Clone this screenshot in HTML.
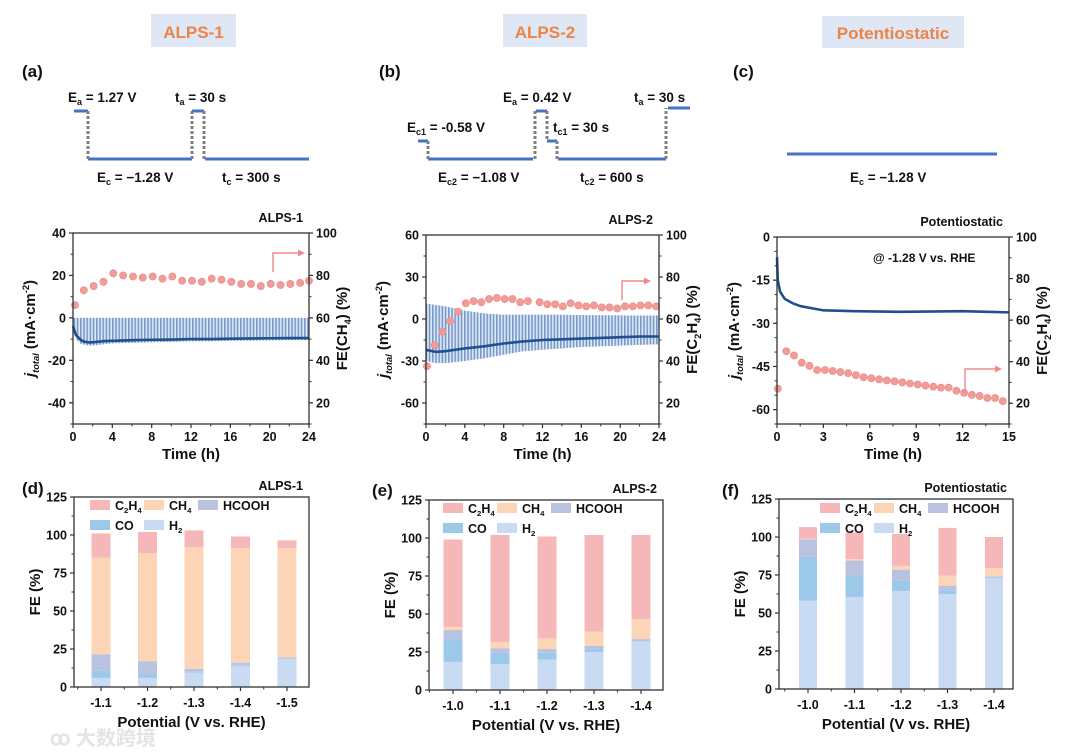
<!DOCTYPE html>
<html><head><meta charset="utf-8"><style>
html,body{margin:0;padding:0;background:#fff;}
svg{display:block;font-family:"Liberation Sans",Arial,sans-serif;font-weight:bold;}
</style></head><body>
<svg id="fig" width="1080" height="753" viewBox="0 0 1080 753" xmlns="http://www.w3.org/2000/svg">
<defs>
<pattern id="hatch" width="3.2" height="10" patternUnits="userSpaceOnUse"><rect width="1.6" height="10" fill="#3f6fb3"/></pattern>
</defs>
<!-- headers -->
<g><rect x="151" y="14" width="85" height="33" fill="#dfe7f4"/><text x="193.5" y="38" font-size="17" fill="#ec8447" text-anchor="middle">ALPS-1</text></g>
<g><rect x="503" y="14" width="84" height="33" fill="#dfe7f4"/><text x="545" y="38" font-size="17" fill="#ec8447" text-anchor="middle">ALPS-2</text></g>
<g><rect x="822" y="16" width="142" height="32" fill="#dfe7f4"/><text x="893" y="39" font-size="17" fill="#ec8447" text-anchor="middle">Potentiostatic</text></g>
<g font-size="17" fill="#111">
<text x="22" y="77">(a)</text>
<text x="379" y="77">(b)</text>
<text x="733" y="77">(c)</text>
<text x="22" y="494">(d)</text>
<text x="372" y="496">(e)</text>
<text x="722" y="496">(f)</text>
</g>
<!-- schematic a -->
<g fill="none">
<g stroke="#4472c4" stroke-width="3"><path d="M74 111H88M88 159H192M192 111H204M205 159H309"/></g>
<g stroke="#7f7f7f" stroke-width="3" stroke-dasharray="3 2"><path d="M88 111V159M192 159V111M204 111V159"/></g>
</g>
<g font-size="13.5" fill="#111">
<text x="68" y="102">E<tspan font-size="9" dy="3">a</tspan><tspan dy="-3"> = 1.27 V</tspan></text>
<text x="175" y="102">t<tspan font-size="9" dy="3">a</tspan><tspan dy="-3"> = 30 s</tspan></text>
<text x="97" y="182">E<tspan font-size="9" dy="3">c</tspan><tspan dy="-3"> = −1.28 V</tspan></text>
<text x="222" y="182">t<tspan font-size="9" dy="3">c</tspan><tspan dy="-3"> = 300 s</tspan></text>
</g>
<!-- schematic b -->
<g fill="none">
<g stroke="#4472c4" stroke-width="3"><path d="M418 141H428M428 159H533M536 111H547M547 141H557M558 159H666M668 108H690"/></g>
<g stroke="#7f7f7f" stroke-width="3" stroke-dasharray="3 2"><path d="M428 141V159M535 159V111M547 111V141M557 141V159M666 159V108"/></g>
</g>
<g font-size="13.5" fill="#111">
<text x="407" y="132">E<tspan font-size="9" dy="3">c1</tspan><tspan dy="-3"> = -0.58 V</tspan></text>
<text x="503" y="102">E<tspan font-size="9" dy="3">a</tspan><tspan dy="-3"> = 0.42 V</tspan></text>
<text x="553" y="132">t<tspan font-size="9" dy="3">c1</tspan><tspan dy="-3"> = 30 s</tspan></text>
<text x="634" y="102">t<tspan font-size="9" dy="3">a</tspan><tspan dy="-3"> = 30 s</tspan></text>
<text x="438" y="182">E<tspan font-size="9" dy="3">c2</tspan><tspan dy="-3"> = −1.08 V</tspan></text>
<text x="580" y="182">t<tspan font-size="9" dy="3">c2</tspan><tspan dy="-3"> = 600 s</tspan></text>
</g>
<!-- schematic c -->
<path d="M787 154H997" stroke="#4472c4" stroke-width="3"/>
<text x="850" y="182" font-size="13.5" fill="#111">E<tspan font-size="9" dy="3">c</tspan><tspan dy="-3"> = −1.28 V</tspan></text>
<text x="50" y="745" font-size="20" fill="#e4e4e4" font-family="'Liberation Sans','Noto Sans CJK SC',sans-serif">ꝏ 大数跨境</text>
<g id="charts"></g>
</svg>
<script>
// ---------- data: time series ----------
const aJT = [0,0.3,0.7,1,1.5,2,3,4,6,8,10,12,14,16,18,20,22,24];
const aJV = [-4,-8,-10,-11,-11.5,-11.5,-11,-10.8,-10.5,-10.3,-10.2,-10,-10,-9.8,-9.7,-9.6,-9.5,-9.5];
const aBandHi = [0,0,0,0,0,0,0,0,0,0,0,0,0,0,0,0,0,0];
const aBandLo = [-6,-10,-12,-12.5,-13,-13,-12.5,-12,-11.8,-11.5,-11.3,-11,-11,-10.8,-10.7,-10.6,-10.5,-10.5];
const aFT = [0.2,1.1,2.1,3.1,4.1,5.1,6.1,7.1,8.1,9.1,10.1,11.1,12.1,13.1,14.1,15.1,16.1,17.1,18.1,19.1,20.1,21.1,22.1,23.1,24];
const aFV = [66,73,75,77,81,80,79.5,79,79.5,78.5,79.5,77.5,77.5,77,78.5,78,77,76,76,75,76,75.5,76,76.5,77.5];

const bJT = [0,1,2,4,6,8,10,12,14,16,18,20,22,24];
const bJV = [-22,-23.5,-23,-21,-19.5,-17.5,-16,-15,-14.5,-14,-13.5,-13,-12.5,-12.5];
const bBandHi = [11,10,9,6,4,3,3,3,3,2.8,2.7,2.6,2.5,2.5];
const bBandLo = [-30,-31.5,-31.5,-30,-28,-25.5,-23,-22,-21,-20,-19.5,-19,-18.5,-18];
const bFT = [0.1,0.9,1.7,2.5,3.3,4.1,4.9,5.7,6.5,7.3,8.1,8.9,9.7,10.5,11.7,12.5,13.3,14.1,14.9,15.7,16.5,17.3,18.1,18.9,19.7,20.5,21.3,22.1,22.9,23.7];
const bFV = [37.5,47.5,54,59,63.5,67.5,68.5,68,69.5,70,69.5,69.5,68,68.5,68,67,67,66,67.5,66.5,66,66.5,65.5,65.5,65,66,66,66.5,66.5,66];

const cJT = [0,0.05,0.2,0.5,1,1.5,2,3,5,8,12,13.6,15];
const cJV = [-7,-15,-19,-21.5,-23,-24,-24.5,-25.5,-25.8,-26,-25.8,-26,-26.2];
const cFT = [0.05,0.6,1.1,1.6,2.1,2.6,3.1,3.6,4.1,4.6,5.1,5.6,6.1,6.6,7.1,7.6,8.1,8.6,9.1,9.6,10.1,10.6,11.1,11.6,12.1,12.6,13.1,13.6,14.1,14.6];
const cFV = [27,45,43,39.5,38,36,36,35.5,35,34.5,33.5,32.5,32,31.5,31,30.5,30,29.5,29,28.5,28,27.5,27.5,26,25,24,23.5,22.5,22.5,21];

// ---------- data: bar charts (stack order H2, CO, HCOOH, CH4, C2H4) ----------
const products = ["H2","CO","HCOOH","CH4","C2H4"];
const dCats = ["-1.1","-1.2","-1.3","-1.4","-1.5"];
const dH2 = [6,6,9.5,14,18.5];
const dCO = [5,2.5,0.5,0.5,0];
const dHCOOH = [10.5,8.5,2,1.5,1];
const dCH4 = [63.5,71,80,75.5,72];
const dC2H4 = [16,14,11,7.5,5];
const eCats = ["-1.0","-1.1","-1.2","-1.3","-1.4"];
const eH2 = [18.5,17,20,25,32];
const eCO = [15,7,4.5,2.5,0.5];
const eHCOOH = [6,3.5,2.5,1.5,1];
const eCH4 = [2,4,7,9.5,13];
const eC2H4 = [57.5,70.5,67,63.5,55.5];
const fCats = ["-1.0","-1.1","-1.2","-1.3","-1.4"];
const fH2 = [58,60.5,64.5,62.5,73];
const fCO = [29,13.5,7,2.5,0.5];
const fHCOOH = [11.5,10.5,7,3,0.5];
const fCH4 = [0.5,1,2.5,6.5,5.5];
const fC2H4 = [7.5,17.5,21,31.5,20.5];

const xTicksA = [0,4,8,12,16,20,24];
const yTicksAL = [40,20,0,-20,-40];
const yTicksAR = [100,80,60,40,20];
const xTicksB = [0,4,8,12,16,20,24];
const yTicksBL = [60,30,0,-30,-60];
const yTicksBR = [100,80,60,40,20];
const xTicksC = [0,3,6,9,12,15];
const yTicksCL = [0,-15,-30,-45,-60];
const yTicksCR = [100,80,60,40,20];
const yTicksBar = [0,25,50,75,100,125];

const NS = "http://www.w3.org/2000/svg";
const root = document.getElementById("charts");
function mk(tag, attrs, parent){ const e=document.createElementNS(NS,tag); for(const k in attrs) e.setAttribute(k,attrs[k]); (parent||root).appendChild(e); return e; }
function lin(d0,d1,r0,r1){ return v => r0+(v-d0)/(d1-d0)*(r1-r0); }
const colors = {H2:"#c9daf3",CO:"#9cc9ea",HCOOH:"#b9c3df",CH4:"#fbd5b6",C2H4:"#f6b7b9"};

function frame(g,x0,x1,y0,y1){ mk("rect",{x:x0,y:y0,width:x1-x0,height:y1-y0,fill:"none",stroke:"#333","stroke-width":1.3},g); }
function ticksY(g,ticks,sy,x,dir,minorStep,min,max){
  ticks.forEach(t=>{ const y=sy(t); mk("line",{x1:x,x2:x+dir*4,y1:y,y2:y,stroke:"#333","stroke-width":1.2},g);
    const tx=mk("text",{x:x+dir*7,y:y+4.5,"font-size":12.5,"text-anchor":dir<0?"end":"start",fill:"#111"},g); tx.textContent=t; });
  for(let v=min; v<=max+1e-9; v+=minorStep){ const y=sy(v); mk("line",{x1:x,x2:x+dir*2.5,y1:y,y2:y,stroke:"#333","stroke-width":1},g); }
}
function ticksX(g,ticks,sx,y,minorStep,min,max){
  ticks.forEach(t=>{ const x=sx(t); mk("line",{x1:x,x2:x,y1:y,y2:y+4,stroke:"#333","stroke-width":1.2},g);
    const tx=mk("text",{x:x,y:y+17,"font-size":12.5,"text-anchor":"middle",fill:"#111"},g); tx.textContent=t; });
  if(minorStep) for(let v=min; v<=max+1e-9; v+=minorStep){ const x=sx(v); mk("line",{x1:x,x2:x,y1:y,y2:y+2.5,stroke:"#333","stroke-width":1},g); }
}
function subText(g,x,y,parts,size,anchor,rot){
  const t=mk("text",{x:x,y:y,"font-size":size,"text-anchor":anchor||"middle",fill:"#111"},g);
  if(rot) t.setAttribute("transform",`rotate(${rot} ${x} ${y})`);
  parts.forEach(p=>{ const s=document.createElementNS(NS,"tspan"); s.textContent=p[0];
    if(p[1]==="sub"){ s.setAttribute("font-size",size*0.62); s.setAttribute("dy",size*0.25);} 
    else if(p[1]==="sup"){ s.setAttribute("font-size",size*0.62); s.setAttribute("dy",-size*0.4);} 
    else if(p[1]==="back"){ s.setAttribute("dy",p[2]);} 
    if(p[3]) s.setAttribute("font-style","italic");
    t.appendChild(s); });
  return t;
}

function timeChart(o){
  const g=mk("g",{});  
  const sx=lin(o.xmin,o.xmax,o.x0,o.x1), syl=lin(o.lmin,o.lmax,o.y1,o.y0), syr=lin(o.rmin,o.rmax,o.y1,o.y0);
  if(o.bandT){
    let d="M"+o.bandT.map((t,i)=>sx(t)+" "+syl(o.bandHi[i])).join("L");
    for(let i=o.bandT.length-1;i>=0;i--) d+="L"+sx(o.bandT[i])+" "+syl(o.bandLo[i]);
    const band=mk("path",{d:d+"Z",fill:"url(#hatch)",opacity:0.85},g);
    
    
    const band2=mk("path",{d:d+"Z",fill:"#a9c0e2",opacity:0.35},g);
    
    
  }
  const line=mk("polyline",{points:o.jT.map((t,i)=>sx(t)+","+syl(o.jV[i])).join(" "),fill:"none",stroke:"#1f4f8f","stroke-width":2.6,"stroke-linejoin":"round"},g);
  
  
  o.fT.forEach((t,i)=>{ const c=mk("circle",{cx:sx(t),cy:syr(o.fV[i]),r:3.6,fill:"#f29c9a",stroke:"#e88482","stroke-width":0.6},g);
    
     });
  frame(g,o.x0,o.x1,o.y0,o.y1);
  ticksY(g,o.lt,syl,o.x0,-1,o.lminor,o.lmin,o.lmax);
  ticksY(g,o.rt,syr,o.x1,1,10,o.rmin,o.rmax);
  ticksX(g,o.xt,sx,o.y1,o.xminor,o.xmin,o.xmax);
  const xl=mk("text",{x:(o.x0+o.x1)/2,y:o.y1+35,"font-size":15,"text-anchor":"middle",fill:"#111"},g); xl.textContent="Time (h)";
   
  const yl=subText(g,o.x0-38,(o.y0+o.y1)/2,[["j","",0,true],["total","sub",0,true],[" (mA·cm","back",-3.9],["-2","sup"],[")","back",5.8]],15,"middle",-90);
   
  const yr=subText(g,o.x1+38,(o.y0+o.y1)/2,o.rtitle,15,"middle",-90);
   
  const tt=mk("text",{x:o.x1-6,y:o.y0-11,"font-size":12.5,"text-anchor":"end",fill:"#111"},g); tt.textContent=o.title;
   
  const ar=mk("path",{d:o.arrow,fill:"none",stroke:"#f08a88","stroke-width":1.4},g);
   
  const p=o.arrowHead; const ah=mk("path",{d:`M${p[0]} ${p[1]}l-7 -3.5v7z`,fill:"#f08a88"},g);
   
  return g;
}

timeChart({name:"chart-a",x0:73,x1:309,y0:233,y1:424,xmin:0,xmax:24,lmin:-50,lmax:40,rmin:10,rmax:100,
  jT:aJT,jV:aJV,bandT:aJT,bandHi:aBandHi,bandLo:aBandLo,fT:aFT,fV:aFV,lt:yTicksAL,rt:yTicksAR,xt:xTicksA,lminor:10,xminor:2,
  rtitle:[["FE(CH"],["4","sub"],[") (%)","back",-3.75]],title:"ALPS-1",arrow:"M273 272V253H299",arrowHead:[305,253]});
timeChart({name:"chart-b",x0:426,x1:659,y0:235,y1:424,xmin:0,xmax:24,lmin:-75,lmax:60,rmin:10,rmax:100,
  jT:bJT,jV:bJV,bandT:bJT,bandHi:bBandHi,bandLo:bBandLo,fT:bFT,fV:bFV,lt:yTicksBL,rt:yTicksBR,xt:xTicksB,lminor:15,xminor:2,
  rtitle:[["FE(C"],["2","sub"],["H","back",-3.75],["4","sub"],[") (%)","back",-3.75]],title:"ALPS-2",arrow:"M622 300V281H645",arrowHead:[651,281]});
timeChart({name:"chart-c",x0:777,x1:1009,y0:237,y1:424,xmin:0,xmax:15,lmin:-65,lmax:0,rmin:10,rmax:100,
  jT:cJT,jV:cJV,fT:cFT,fV:cFV,lt:yTicksCL,rt:yTicksCR,xt:xTicksC,lminor:5,xminor:1.5,
  rtitle:[["FE(C"],["2","sub"],["H","back",-3.75],["4","sub"],[") (%)","back",-3.75]],title:"Potentiostatic",arrow:"M965 393V369H996",arrowHead:[1002,369]});
(function(){ const t=mk("text",{x:873,y:262,"font-size":12,fill:"#111"}); t.textContent="@ -1.28 V vs. RHE";
    })();

function barChart(o){
  const g=mk("g",{});  
  const sy=lin(0,125,o.y1,o.y0), sx=lin(0,o.cats.length-1,o.c0,o.c1);
  const series=[o.H2,o.CO,o.HCOOH,o.CH4,o.C2H4];
  o.cats.forEach((c,i)=>{ let base=0;
    series.forEach((s,k)=>{ const v=s[i]; const r=mk("rect",{x:sx(i)-o.bw/2,y:sy(base+v),width:o.bw,height:sy(base)-sy(base+v),fill:colors[products[k]]},g);
      
      
      base+=v; }); });
  frame(g,o.x0,o.x1,o.y0,o.y1);
  ticksY(g,yTicksBar,sy,o.x0,-1,12.5,0,125);
  o.cats.forEach((c,i)=>{ const x=sx(i); mk("line",{x1:x,x2:x,y1:o.y1,y2:o.y1+4,stroke:"#333","stroke-width":1.2},g);
    const t=mk("text",{x:x,y:o.y1+20,"font-size":12.5,"text-anchor":"middle",fill:"#111"},g); t.textContent=c;
    if(i<o.cats.length-1){ const xm=(sx(i)+sx(i+1))/2; mk("line",{x1:xm,x2:xm,y1:o.y1,y2:o.y1+2.5,stroke:"#333"},g);} });
  const xm0=sx(0)-(sx(1)-sx(0))/2; mk("line",{x1:xm0,x2:xm0,y1:o.y1,y2:o.y1+2.5,stroke:"#333"},g);
  const xl=mk("text",{x:(o.x0+o.x1)/2,y:o.y1+40,"font-size":15,"text-anchor":"middle",fill:"#111"},g); xl.textContent="Potential (V vs. RHE)";
   
  const yl=mk("text",{x:o.x0-34,y:(o.y0+o.y1)/2,"font-size":15,"text-anchor":"middle",fill:"#111",transform:`rotate(-90 ${o.x0-34} ${(o.y0+o.y1)/2})`},g); yl.textContent="FE (%)";
   
  const tt=mk("text",{x:o.x1-6,y:o.y0-7,"font-size":12.5,"text-anchor":"end",fill:"#111"},g); tt.textContent=o.title;
   
  // legend
  const L=o.leg; const items=[["C2H4",0,0,[["C"],["2","sub"],["H","back",-3.1],["4","sub"]]],["CH4",1,0,[["CH"],["4","sub"]]],["HCOOH",2,0,[["HCOOH"]]],["CO",0,1,[["CO"]]],["H2",1,1,[["H"],["2","sub"]]]];
  items.forEach(it=>{ const lx=L.x+it[1]*L.dx, ly=L.y+it[2]*20;
    const lg=mk("g",{},g);  
    mk("rect",{x:lx,y:ly,width:20,height:10,fill:colors[it[0]]},lg);
    subText(lg,lx+25,ly+10,it[3],12.5,"start"); });
}
barChart({name:"chart-d",x0:74,x1:309,y0:497,y1:687,c0:101,c1:287,bw:19,cats:dCats,H2:dH2,CO:dCO,HCOOH:dHCOOH,CH4:dCH4,C2H4:dC2H4,title:"ALPS-1",leg:{x:90,y:500,dx:54}});
barChart({name:"chart-e",x0:429,x1:663,y0:500,y1:690,c0:453,c1:641,bw:19,cats:eCats,H2:eH2,CO:eCO,HCOOH:eHCOOH,CH4:eCH4,C2H4:eC2H4,title:"ALPS-2",leg:{x:443,y:503,dx:54}});
barChart({name:"chart-f",x0:779,x1:1013,y0:499,y1:689,c0:808,c1:994,bw:18,cats:fCats,H2:fH2,CO:fCO,HCOOH:fHCOOH,CH4:fCH4,C2H4:fC2H4,title:"Potentiostatic",leg:{x:820,y:503,dx:54}});
</script>
</body></html>
